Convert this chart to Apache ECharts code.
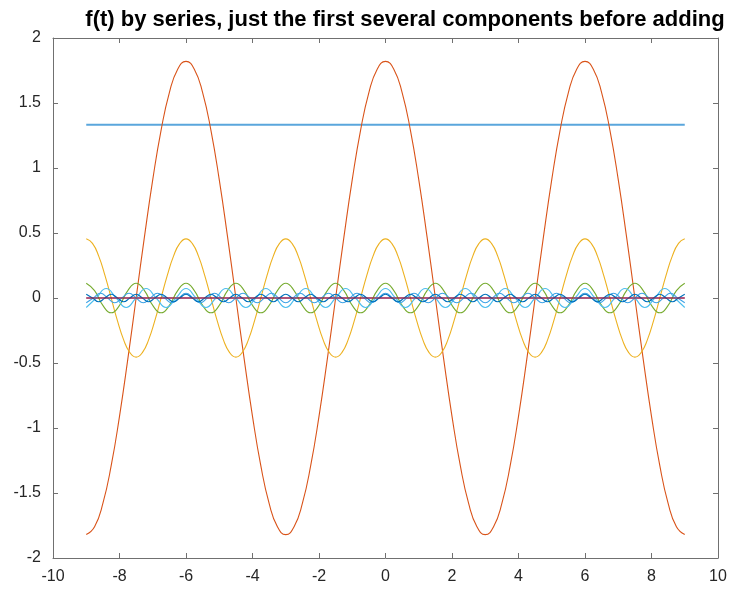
<!DOCTYPE html>
<html>
<head>
<meta charset="utf-8">
<script src="https://cdn.jsdelivr.net/npm/echarts@6/dist/echarts.min.js"></script>
<style>
  html, body { margin: 0; padding: 0; background: #fff; }
  #chart { width: 730px; height: 592px; }
</style>
</head>
<body>
<div id="chart"></div>
<script>
// each component is sampled from t = -9 to t = 9 with its own step
const tFirst = -9;

const constStep = 18;
const constVals = [1.333, 1.333];

const n1Step = 0.25;
const n1Vals = [
  -1.82, -1.76, -1.58, -1.29, -0.91, -0.47, 0, 0.47, 0.91, 1.29, 1.58, 1.76,
  1.82, 1.76, 1.58, 1.29, 0.91, 0.47, 0, -0.47, -0.91, -1.29, -1.58, -1.76,
  -1.82, -1.76, -1.58, -1.29, -0.91, -0.47, 0, 0.47, 0.91, 1.29, 1.58, 1.76,
  1.82, 1.76, 1.58, 1.29, 0.91, 0.47, 0, -0.47, -0.91, -1.29, -1.58, -1.76,
  -1.82, -1.76, -1.58, -1.29, -0.91, -0.47, 0, 0.47, 0.91, 1.29, 1.58, 1.76,
  1.82, 1.76, 1.58, 1.29, 0.91, 0.47, 0, -0.47, -0.91, -1.29, -1.58, -1.76,
  -1.82
];

const n2Step = 0.1875;
const n2Vals = [
  0.455, 0.42, 0.322, 0.174, 0, -0.174, -0.322, -0.42,
  -0.455, -0.42, -0.322, -0.174, 0, 0.174, 0.322, 0.42,
  0.455, 0.42, 0.322, 0.174, 0, -0.174, -0.322, -0.42,
  -0.455, -0.42, -0.322, -0.174, 0, 0.174, 0.322, 0.42,
  0.455, 0.42, 0.322, 0.174, 0, -0.174, -0.322, -0.42,
  -0.455, -0.42, -0.322, -0.174, 0, 0.174, 0.322, 0.42,
  0.455, 0.42, 0.322, 0.174, 0, -0.174, -0.322, -0.42,
  -0.455, -0.42, -0.322, -0.174, 0, 0.174, 0.322, 0.42,
  0.455, 0.42, 0.322, 0.174, 0, -0.174, -0.322, -0.42,
  -0.455, -0.42, -0.322, -0.174, 0, 0.174, 0.322, 0.42,
  0.455, 0.42, 0.322, 0.174, 0, -0.174, -0.322, -0.42,
  -0.455, -0.42, -0.322, -0.174, 0, 0.174, 0.322, 0.42,
  0.455
];

const n3Vals = [0, 0];
const n6Vals = [0, 0];

const n4Step = 0.25;
const n4Vals = [
  0.114, 0.057, -0.057, -0.114, -0.057, 0.057,
  0.114, 0.057, -0.057, -0.114, -0.057, 0.057,
  0.114, 0.057, -0.057, -0.114, -0.057, 0.057,
  0.114, 0.057, -0.057, -0.114, -0.057, 0.057,
  0.114, 0.057, -0.057, -0.114, -0.057, 0.057,
  0.114, 0.057, -0.057, -0.114, -0.057, 0.057,
  0.114, 0.057, -0.057, -0.114, -0.057, 0.057,
  0.114, 0.057, -0.057, -0.114, -0.057, 0.057,
  0.114, 0.057, -0.057, -0.114, -0.057, 0.057,
  0.114, 0.057, -0.057, -0.114, -0.057, 0.057,
  0.114, 0.057, -0.057, -0.114, -0.057, 0.057,
  0.114, 0.057, -0.057, -0.114, -0.057, 0.057,
  0.114
];

const n5Step = 0.3;
const n5Vals = [
  -0.073, 0, 0.073, 0, -0.073, 0, 0.073, 0, -0.073, 0, 0.073, 0,
  -0.073, 0, 0.073, 0, -0.073, 0, 0.073, 0, -0.073, 0, 0.073, 0,
  -0.073, 0, 0.073, 0, -0.073, 0, 0.073, 0, -0.073, 0, 0.073, 0,
  -0.073, 0, 0.073, 0, -0.073, 0, 0.073, 0, -0.073, 0, 0.073, 0,
  -0.073, 0, 0.073, 0, -0.073, 0, 0.073, 0, -0.073, 0, 0.073, 0,
  -0.073
];

const n7Step = 3 / 14;
const n7Vals = [
  -0.037, 0, 0.037, 0, -0.037, 0, 0.037, 0, -0.037, 0, 0.037, 0,
  -0.037, 0, 0.037, 0, -0.037, 0, 0.037, 0, -0.037, 0, 0.037, 0,
  -0.037, 0, 0.037, 0, -0.037, 0, 0.037, 0, -0.037, 0, 0.037, 0,
  -0.037, 0, 0.037, 0, -0.037, 0, 0.037, 0, -0.037, 0, 0.037, 0,
  -0.037, 0, 0.037, 0, -0.037, 0, 0.037, 0, -0.037, 0, 0.037, 0,
  -0.037, 0, 0.037, 0, -0.037, 0, 0.037, 0, -0.037, 0, 0.037, 0,
  -0.037, 0, 0.037, 0, -0.037, 0, 0.037, 0, -0.037, 0, 0.037, 0,
  -0.037
];

const n8Step = 0.1875;
const n8Vals = [
  0.0285, 0, -0.0285, 0, 0.0285, 0, -0.0285, 0, 0.0285, 0, -0.0285, 0,
  0.0285, 0, -0.0285, 0, 0.0285, 0, -0.0285, 0, 0.0285, 0, -0.0285, 0,
  0.0285, 0, -0.0285, 0, 0.0285, 0, -0.0285, 0, 0.0285, 0, -0.0285, 0,
  0.0285, 0, -0.0285, 0, 0.0285, 0, -0.0285, 0, 0.0285, 0, -0.0285, 0,
  0.0285, 0, -0.0285, 0, 0.0285, 0, -0.0285, 0, 0.0285, 0, -0.0285, 0,
  0.0285, 0, -0.0285, 0, 0.0285, 0, -0.0285, 0, 0.0285, 0, -0.0285, 0,
  0.0285, 0, -0.0285, 0, 0.0285, 0, -0.0285, 0, 0.0285, 0, -0.0285, 0,
  0.0285, 0, -0.0285, 0, 0.0285, 0, -0.0285, 0, 0.0285, 0, -0.0285, 0,
  0.0285
];

const xTicks = { min: -10, max: 10, interval: 2 };
const yTicks = { min: -2, max: 2, interval: 0.5 };

const titleText = 'f(t) by series, just the first several components before adding';

function toPairs(step, vals) {
  return vals.map((v, i) => [tFirst + i * step, v]);
}

const axisColor = '#707070';
const textColor = '#262626';
const font = 'Liberation Sans, Arial, Helvetica, sans-serif';

function line(name, color, step, vals, width, smooth) {
  return {
    name: name,
    type: 'line',
    data: toPairs(step, vals),
    showSymbol: false,
    smooth: smooth,
    lineStyle: { color: color, width: width },
    itemStyle: { color: color },
    silent: true,
  };
}

const chart = echarts.init(document.getElementById('chart'));

const baseX = {
  type: 'value',
  min: xTicks.min,
  max: xTicks.max,
  interval: xTicks.interval,
  axisLine: { show: true, onZero: false, lineStyle: { color: axisColor, width: 1 } },
  axisTick: { show: true, inside: true, length: 5, lineStyle: { color: axisColor } },
  splitLine: { show: false },
};
const baseY = {
  type: 'value',
  min: yTicks.min,
  max: yTicks.max,
  interval: yTicks.interval,
  axisLine: { show: true, onZero: false, lineStyle: { color: axisColor, width: 1 } },
  axisTick: { show: true, inside: true, length: 5, lineStyle: { color: axisColor } },
  splitLine: { show: false },
};

chart.setOption({
  animation: false,
  backgroundColor: '#fff',
  title: {
    text: titleText,
    left: 400,
    textAlign: 'center',
    top: 4,
    textStyle: { fontFamily: font, fontSize: 22, fontWeight: 'bold', color: '#000' },
  },
  grid: { left: 53, right: 12, top: 38, bottom: 34 },
  xAxis: [
    Object.assign({}, baseX, {
      position: 'bottom',
      axisLabel: { color: textColor, fontSize: 16, fontFamily: font, margin: 11 },
    }),
    Object.assign({}, baseX, { position: 'top', axisLabel: { show: false } }),
  ],
  yAxis: [
    Object.assign({}, baseY, {
      position: 'left',
      axisLabel: { color: textColor, fontSize: 16, fontFamily: font, margin: 12 },
    }),
    Object.assign({}, baseY, { position: 'right', axisLabel: { show: false } }),
  ],
  series: [
    line('a0', '#5aa6dc', constStep, constVals, 2, false),
    line('n1', '#D95319', n1Step, n1Vals, 1.1, true),
    line('n2', '#EDB120', n2Step, n2Vals, 1.1, true),
    line('n3', '#7E2F8E', constStep, n3Vals, 1.1, false),
    line('n4', '#77AC30', n4Step, n4Vals, 1.1, true),
    line('n5', '#4DBEEE', n5Step, n5Vals, 1.1, true),
    line('n7', '#3fa3e6', n7Step, n7Vals, 1.1, true),
    line('n8', '#0072BD', n8Step, n8Vals, 1.1, true),
    line('n6', '#A2142F', constStep, n6Vals, 1.1, false),
  ],
});
</script>
</body>
</html>
